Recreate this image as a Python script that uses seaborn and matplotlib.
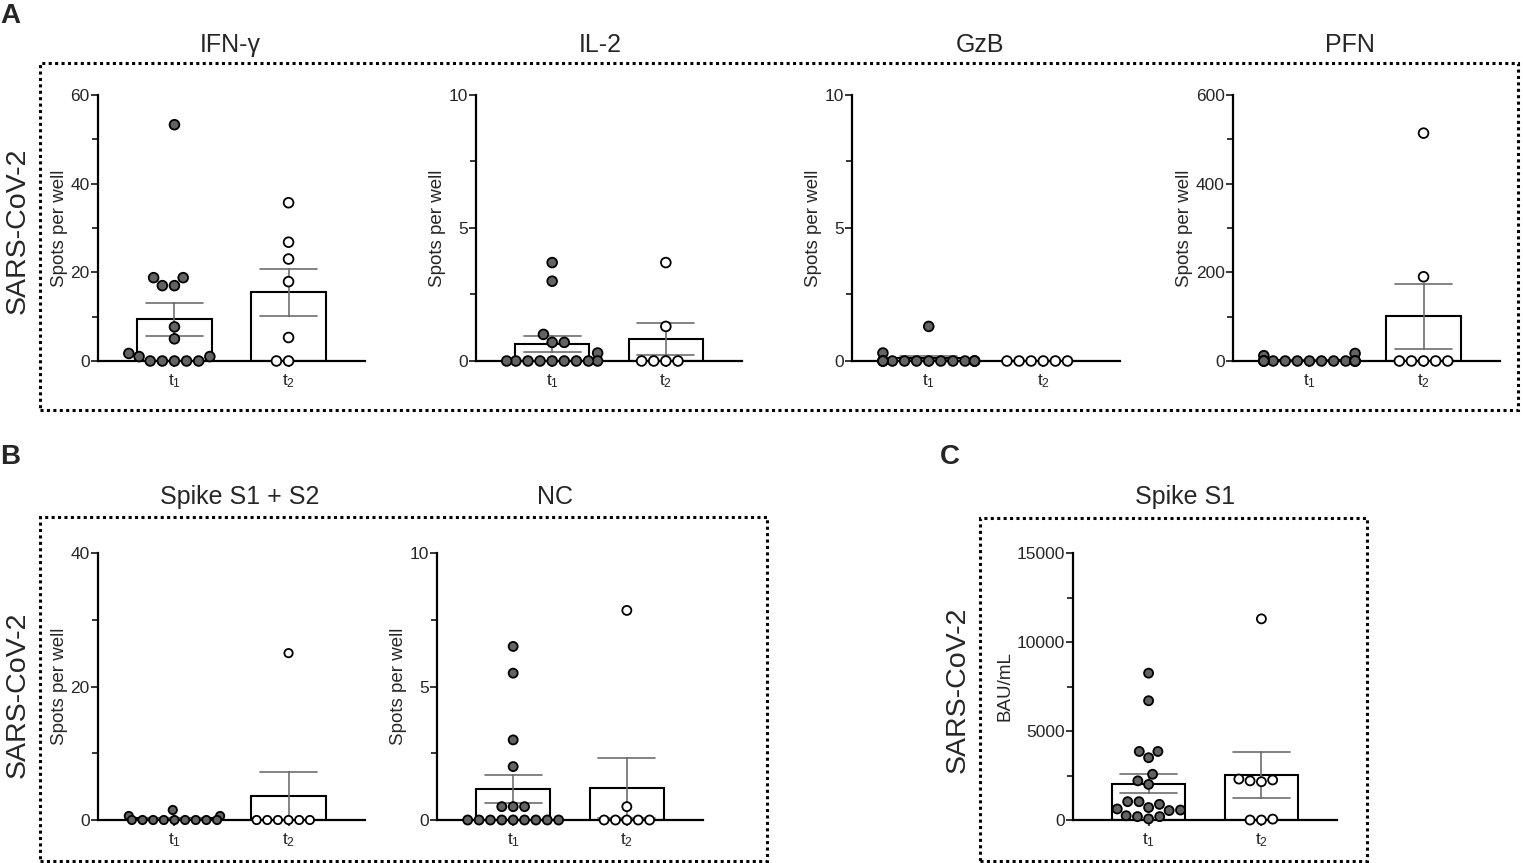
import matplotlib
matplotlib.use("Agg")
import matplotlib.pyplot as plt
import numpy as np
import pandas as pd
import seaborn as sns
from matplotlib.patches import Rectangle
from matplotlib.ticker import MultipleLocator

# values (t1 / t2 per readout)
ifng_t1 = [53.3, 18.8, 18.8, 17.0, 17.0, 7.7, 5.0, 1.7, 1.0, 1.0, 0, 0, 0, 0, 0]
ifng_t2 = [35.7, 26.8, 23.0, 17.9, 5.3, 0, 0]
il2_t1 = [3.7, 3.0, 1.0, 0.7, 0.7, 0.3, 0, 0, 0, 0, 0, 0, 0, 0, 0]
il2_t2 = [3.7, 1.3, 0, 0, 0, 0]
gzb_t1 = [1.3, 0.3, 0, 0, 0, 0, 0, 0, 0, 0, 0, 0, 0, 0, 0]
gzb_t2 = [0, 0, 0, 0, 0, 0]
pfn_t1 = [17, 12, 0, 0, 0, 0, 0, 0, 0, 0, 0, 0, 0, 0, 0]
pfn_t2 = [514, 190, 0, 0, 0, 0, 0]
spike_t1 = [1.5, 0.6, 0.6, 0, 0, 0, 0, 0, 0, 0, 0, 0]
spike_t2 = [25.0, 0, 0, 0, 0, 0, 0]
nc_t1 = [6.5, 5.5, 3.0, 2.0, 0.5, 0.5, 0.5, 0, 0, 0, 0, 0, 0, 0, 0, 0]
nc_t2 = [7.85, 0.5, 0, 0, 0, 0, 0]
s1_t1 = [8250, 6700, 3850, 3850, 3500, 2570, 2200, 2000, 1030, 1030,
         880, 700, 620, 560, 530, 240, 190, 190, 60]
s1_t2 = [11300, 2300, 2250, 2200, 2150, 50, 0, 0]

times = ["t1", "t2"]
tick_labels = [r"$\mathregular{t_1}$", r"$\mathregular{t_2}$"]
titles = ["IFN-γ", "IL-2", "GzB", "PFN", "Spike S1 + S2", "NC", "Spike S1"]

W, H = 1523, 863

sns.set_style("white")
plt.rcParams["font.family"] = ["Liberation Sans", "DejaVu Sans"]
plt.rcParams["mathtext.fontset"] = "custom"
plt.rcParams["mathtext.rm"] = "Liberation Sans"

fig = plt.figure(figsize=(W / 100, H / 100), dpi=100)


def rect(l, t, r, b):
    return [l / W, 1 - b / H, (r - l) / W, (b - t) / H]


# (t1, t2, ymax, major, minor, ylabel, axes box px, title x, title y, dot size)
panels = [
    (ifng_t1, ifng_t2, 60, 20, 10, "Spots per well", (98, 95, 365, 361), 230, 45, 7),
    (il2_t1, il2_t2, 10, 5, 2.5, "Spots per well", (476, 95, 742, 361), 600, 45, 7),
    (gzb_t1, gzb_t2, 10, 5, 2.5, "Spots per well", (852, 95, 1120, 361), 980, 45, 7),
    (pfn_t1, pfn_t2, 600, 200, 100, "Spots per well", (1233, 95, 1500, 361), 1350, 45, 7),
    (spike_t1, spike_t2, 40, 20, 10, "Spots per well", (98, 553, 365, 820), 240, 497, 6),
    (nc_t1, nc_t2, 10, 5, 2.5, "Spots per well", (437, 553, 703, 820), 555, 497, 6.5),
    (s1_t1, s1_t2, 15000, 5000, 2500, "BAU/mL", (1073, 553, 1337, 820), 1185, 497, 6.5),
]

for (v1, v2, ymax, major, minor, ylab, box, tx, ty, size), title in zip(panels, titles):
    df = pd.DataFrame({"time": ["t1"] * len(v1) + ["t2"] * len(v2),
                       "value": v1 + v2})
    ax = fig.add_axes(rect(*box))
    sns.barplot(data=df, x="time", y="value", order=times, color="white",
                edgecolor="black", linewidth=1.5, width=0.65, errorbar="se",
                capsize=0.5, err_kws={"color": "#6e6e6e", "linewidth": 1.2},
                ax=ax)
    sns.swarmplot(data=df, x="time", y="value", order=times, hue="time",
                  palette={"t1": "#636363", "t2": "white"}, edgecolor="black",
                  linewidth=1.3, size=size, legend=False, ax=ax, warn_thresh=1)
    for c in ax.collections:
        c.set_clip_on(False)
        c.set_zorder(4)
    for ln in ax.lines:
        ln.set_clip_on(False)
    ax.set_xlim(-0.67, 1.67)
    ax.set_ylim(0, ymax)
    ax.yaxis.set_major_locator(MultipleLocator(major))
    ax.yaxis.set_minor_locator(MultipleLocator(minor))
    ax.set_xticks([0, 1])
    ax.set_xticklabels(tick_labels, fontsize=12.5)
    ax.tick_params(axis="y", which="major", direction="out", length=5,
                   width=1.3, labelsize=12.5, pad=1, left=True)
    ax.tick_params(axis="y", which="minor", direction="out", length=4,
                   width=1.3, left=True)
    ax.tick_params(axis="x", direction="out", length=4, width=1.2, pad=4,
                   bottom=True)
    ax.set_xlabel("")
    ax.set_ylabel(ylab, fontsize=13.5, labelpad=2)
    for s in ["top", "right"]:
        ax.spines[s].set_visible(False)
    for s in ["left", "bottom"]:
        ax.spines[s].set_linewidth(1.6)
        ax.spines[s].set_color("black")
    ax.patch.set_alpha(0)
    fig.text(tx / W, 1 - ty / H, title, fontsize=18, ha="center", va="center")

# dotted group boxes
for l, t, r, b in [(40, 63, 1518, 410), (40, 517, 767, 861), (980, 518, 1367, 861)]:
    fig.patches.append(Rectangle((l / W, 1 - b / H), (r - l) / W, (b - t) / H,
                                 transform=fig.transFigure, fill=False,
                                 edgecolor="black", linewidth=2.2,
                                 linestyle=(0, (1, 1.1)), zorder=0))

for x, y in [(18, 231), (18, 695), (958, 690)]:
    fig.text(x / W, 1 - y / H, "SARS-CoV-2", fontsize=20.5, rotation=90,
             ha="center", va="center")

for x, y, lab in [(10, 16, "A"), (10, 457, "B"), (950, 457, "C")]:
    fig.text(x / W, 1 - y / H, lab, fontsize=20, fontweight="bold",
             ha="center", va="center")

fig.savefig("out.png", dpi=100)
